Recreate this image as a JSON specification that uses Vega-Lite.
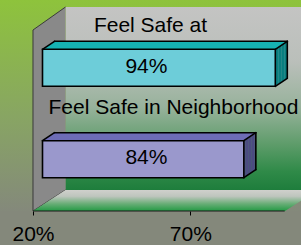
{
  "$schema": "https://vega.github.io/schema/vega-lite/v6.json",
  "width": 301,
  "height": 211,
  "autosize": {"type": "none"},
  "padding": {"left": 0, "top": 0, "right": 0, "bottom": 34},
  "background": "#84887b",
  "config": {"view": {"stroke": null}, "font": "Liberation Sans"},
  "datasets": {
    "frame": [{"part": "chart frame"}],
    "bars": [
      {"measure": "Feel Safe at", "value": 0.94},
      {"measure": "Feel Safe in Neighborhood", "value": 0.84}
    ]
  },
  "resolve": {"scale": {"y": "independent"}},
  "layer": [
    {
      "data": {"name": "frame"},
      "mark": {"type": "rect", "fill": {"gradient": "linear", "x1": 0, "y1": 0, "x2": 0, "y2": 1, "stops": [{"offset": 0, "color": "#8ec33c"}, {"offset": 0.55, "color": "#88a563"}, {"offset": 1, "color": "#84897b"}]}},
      "encoding": {
        "x": {"datum": 0.09511, "type": "quantitative", "scale": {"domain": [0.09511, 1.05188], "nice": false, "zero": false}, "axis": {"orient": "bottom", "values": [0.2, 0.7], "format": ".0%", "domain": false, "grid": false, "tickSize": 4, "tickColor": "#000", "tickWidth": 1, "labelFontSize": 21, "labelFont": "Liberation Sans", "labelColor": "#000", "labelPadding": 25.5, "labelBaseline": "alphabetic", "labelFlush": false, "labelOverlap": false, "title": null}},
        "x2": {"datum": 1.05188},
        "y": {"datum": 0, "type": "quantitative", "scale": {"domain": [0, 100], "nice": false, "zero": false}, "axis": null},
        "y2": {"datum": 100}
      }
    },
    {
      "data": {"name": "frame"},
      "mark": {"type": "rect", "fill": {"gradient": "linear", "x1": 0, "y1": 0, "x2": 0, "y2": 1, "stops": [{"offset": 0, "color": "#c4c4c3"}, {"offset": 0.3, "color": "#babfba"}, {"offset": 0.55, "color": "#97b29b"}, {"offset": 0.75, "color": "#5e9c6a"}, {"offset": 0.9, "color": "#2f8a48"}, {"offset": 1, "color": "#1e7d3c"}]}},
      "encoding": {
        "x": {"datum": 0.3033, "type": "quantitative", "scale": {"domain": [0.09511, 1.05188], "nice": false, "zero": false}, "axis": {"orient": "bottom", "values": [0.2, 0.7], "format": ".0%", "domain": false, "grid": false, "tickSize": 4, "tickColor": "#000", "tickWidth": 1, "labelFontSize": 21, "labelFont": "Liberation Sans", "labelColor": "#000", "labelPadding": 25.5, "labelBaseline": "alphabetic", "labelFlush": false, "labelOverlap": false, "title": null}},
        "x2": {"datum": 1.05188},
        "y": {"datum": 96.682, "type": "quantitative", "scale": {"domain": [0, 100], "nice": false, "zero": false}, "axis": null},
        "y2": {"datum": 9.953}
      }
    },
    {
      "data": {"name": "frame"},
      "mark": {"type": "point", "shape": "M32.5,-21L0,0L0,-181L32.5,-204", "size": 4, "filled": true, "fill": "#898989", "stroke": "#3a3a3a", "strokeWidth": 1, "opacity": 1},
      "encoding": {
        "x": {"datum": 0.2, "type": "quantitative", "scale": {"domain": [0.09511, 1.05188], "nice": false, "zero": false}, "axis": {"orient": "bottom", "values": [0.2, 0.7], "format": ".0%", "domain": false, "grid": false, "tickSize": 4, "tickColor": "#000", "tickWidth": 1, "labelFontSize": 21, "labelFont": "Liberation Sans", "labelColor": "#000", "labelPadding": 25.5, "labelBaseline": "alphabetic", "labelFlush": false, "labelOverlap": false, "title": null}},
        "y": {"datum": 0, "type": "quantitative", "scale": {"domain": [0, 100], "nice": false, "zero": false}, "axis": null}
      }
    },
    {
      "data": {"name": "frame"},
      "mark": {"type": "point", "shape": "M0,0L32.5,-21L285,-21L252,0Z", "size": 4, "filled": true, "opacity": 1, "stroke": null, "fill": {"gradient": "linear", "x1": 0, "y1": 0, "x2": 0, "y2": 1, "stops": [{"offset": 0, "color": "#cfd0cc"}, {"offset": 0.3, "color": "#bec5bd"}, {"offset": 0.65, "color": "#6aae78"}, {"offset": 1, "color": "#249a44"}]}},
      "encoding": {
        "x": {"datum": 0.2, "type": "quantitative", "scale": {"domain": [0.09511, 1.05188], "nice": false, "zero": false}, "axis": {"orient": "bottom", "values": [0.2, 0.7], "format": ".0%", "domain": false, "grid": false, "tickSize": 4, "tickColor": "#000", "tickWidth": 1, "labelFontSize": 21, "labelFont": "Liberation Sans", "labelColor": "#000", "labelPadding": 25.5, "labelBaseline": "alphabetic", "labelFlush": false, "labelOverlap": false, "title": null}},
        "y": {"datum": 0, "type": "quantitative", "scale": {"domain": [0, 100], "nice": false, "zero": false}, "axis": null}
      }
    },
    {
      "data": {"name": "frame"},
      "mark": {"type": "rule", "stroke": "#1a1a1a", "strokeWidth": 1.2},
      "encoding": {
        "x": {"datum": 0.2, "type": "quantitative", "scale": {"domain": [0.09511, 1.05188], "nice": false, "zero": false}, "axis": {"orient": "bottom", "values": [0.2, 0.7], "format": ".0%", "domain": false, "grid": false, "tickSize": 4, "tickColor": "#000", "tickWidth": 1, "labelFontSize": 21, "labelFont": "Liberation Sans", "labelColor": "#000", "labelPadding": 25.5, "labelBaseline": "alphabetic", "labelFlush": false, "labelOverlap": false, "title": null}},
        "x2": {"datum": 1.0},
        "y": {"datum": 0, "type": "quantitative", "scale": {"domain": [0, 100], "nice": false, "zero": false}, "axis": null}
      }
    },
    {
      "data": {"name": "bars"},
      "encoding": {
        "x": {"field": "value", "type": "quantitative", "scale": {"domain": [0.09511, 1.05188], "nice": false, "zero": false}, "axis": {"orient": "bottom", "values": [0.2, 0.7], "format": ".0%", "domain": false, "grid": false, "tickSize": 4, "tickColor": "#000", "tickWidth": 1, "labelFontSize": 21, "labelFont": "Liberation Sans", "labelColor": "#000", "labelPadding": 25.5, "labelBaseline": "alphabetic", "labelFlush": false, "labelOverlap": false, "title": null}},
        "y": {"field": "measure", "type": "nominal", "sort": null, "scale": {"type": "point", "domain": ["Feel Safe at", "Feel Safe in Neighborhood"], "padding": 0.6543, "align": 0.4122}, "axis": null}
      },
      "layer": [
        {"mark": {"type": "rule", "strokeWidth": 1.4, "xOffset": 10.25, "x2Offset": 10.25, "yOffset": -0.5}, "encoding": {"x2": {"datum": 0.2}, "stroke": {"condition": {"test": "datum.measure === 'Feel Safe at'", "value": "#17b2b3"}, "value": "#6d6cb6"}}},
        {"mark": {"type": "rule", "strokeWidth": 1.4, "xOffset": 11.75, "x2Offset": 11.75, "yOffset": -1.5}, "encoding": {"x2": {"datum": 0.2}, "stroke": {"condition": {"test": "datum.measure === 'Feel Safe at'", "value": "#17b2b3"}, "value": "#6d6cb6"}}},
        {"mark": {"type": "rule", "strokeWidth": 1.4, "xOffset": 13.25, "x2Offset": 13.25, "yOffset": -2.5}, "encoding": {"x2": {"datum": 0.2}, "stroke": {"condition": {"test": "datum.measure === 'Feel Safe at'", "value": "#17b2b3"}, "value": "#6d6cb6"}}},
        {"mark": {"type": "rule", "strokeWidth": 1.4, "xOffset": 14.75, "x2Offset": 14.75, "yOffset": -3.5}, "encoding": {"x2": {"datum": 0.2}, "stroke": {"condition": {"test": "datum.measure === 'Feel Safe at'", "value": "#17b2b3"}, "value": "#6d6cb6"}}},
        {"mark": {"type": "rule", "strokeWidth": 1.4, "xOffset": 16.25, "x2Offset": 16.25, "yOffset": -4.5}, "encoding": {"x2": {"datum": 0.2}, "stroke": {"condition": {"test": "datum.measure === 'Feel Safe at'", "value": "#17b2b3"}, "value": "#6d6cb6"}}},
        {"mark": {"type": "rule", "strokeWidth": 1.4, "xOffset": 17.75, "x2Offset": 17.75, "yOffset": -5.5}, "encoding": {"x2": {"datum": 0.2}, "stroke": {"condition": {"test": "datum.measure === 'Feel Safe at'", "value": "#17b2b3"}, "value": "#6d6cb6"}}},
        {"mark": {"type": "rule", "strokeWidth": 1.4, "xOffset": 19.25, "x2Offset": 19.25, "yOffset": -6.5}, "encoding": {"x2": {"datum": 0.2}, "stroke": {"condition": {"test": "datum.measure === 'Feel Safe at'", "value": "#17b2b3"}, "value": "#6d6cb6"}}},
        {"mark": {"type": "rule", "strokeWidth": 1.4, "xOffset": 20.75, "x2Offset": 20.75, "yOffset": -7.5}, "encoding": {"x2": {"datum": 0.2}, "stroke": {"condition": {"test": "datum.measure === 'Feel Safe at'", "value": "#17b2b3"}, "value": "#6d6cb6"}}},
        {"mark": {"type": "rect", "xOffset": 9.5, "x2Offset": 11.2, "yOffset": -0.5, "y2Offset": 36.5}, "encoding": {"x2": {"field": "value"}, "y2": {"field": "measure"}, "fill": {"condition": {"test": "datum.measure === 'Feel Safe at'", "value": "#0a7f80"}, "value": "#4c4b82"}}},
        {"mark": {"type": "rect", "xOffset": 11, "x2Offset": 12.7, "yOffset": -1.5, "y2Offset": 35.5}, "encoding": {"x2": {"field": "value"}, "y2": {"field": "measure"}, "fill": {"condition": {"test": "datum.measure === 'Feel Safe at'", "value": "#0a7f80"}, "value": "#4c4b82"}}},
        {"mark": {"type": "rect", "xOffset": 12.5, "x2Offset": 14.2, "yOffset": -2.5, "y2Offset": 34.5}, "encoding": {"x2": {"field": "value"}, "y2": {"field": "measure"}, "fill": {"condition": {"test": "datum.measure === 'Feel Safe at'", "value": "#0a7f80"}, "value": "#4c4b82"}}},
        {"mark": {"type": "rect", "xOffset": 14, "x2Offset": 15.7, "yOffset": -3.5, "y2Offset": 33.5}, "encoding": {"x2": {"field": "value"}, "y2": {"field": "measure"}, "fill": {"condition": {"test": "datum.measure === 'Feel Safe at'", "value": "#0a7f80"}, "value": "#4c4b82"}}},
        {"mark": {"type": "rect", "xOffset": 15.5, "x2Offset": 17.2, "yOffset": -4.5, "y2Offset": 32.5}, "encoding": {"x2": {"field": "value"}, "y2": {"field": "measure"}, "fill": {"condition": {"test": "datum.measure === 'Feel Safe at'", "value": "#0a7f80"}, "value": "#4c4b82"}}},
        {"mark": {"type": "rect", "xOffset": 17, "x2Offset": 18.7, "yOffset": -5.5, "y2Offset": 31.5}, "encoding": {"x2": {"field": "value"}, "y2": {"field": "measure"}, "fill": {"condition": {"test": "datum.measure === 'Feel Safe at'", "value": "#0a7f80"}, "value": "#4c4b82"}}},
        {"mark": {"type": "rect", "xOffset": 18.5, "x2Offset": 20.2, "yOffset": -6.5, "y2Offset": 30.5}, "encoding": {"x2": {"field": "value"}, "y2": {"field": "measure"}, "fill": {"condition": {"test": "datum.measure === 'Feel Safe at'", "value": "#0a7f80"}, "value": "#4c4b82"}}},
        {"mark": {"type": "rect", "xOffset": 20, "x2Offset": 21.7, "yOffset": -7.5, "y2Offset": 29.5}, "encoding": {"x2": {"field": "value"}, "y2": {"field": "measure"}, "fill": {"condition": {"test": "datum.measure === 'Feel Safe at'", "value": "#0a7f80"}, "value": "#4c4b82"}}},
        {"mark": {"type": "rect", "xOffset": 9.5, "x2Offset": 9.5, "y2Offset": 37, "stroke": "#000", "strokeWidth": 1.6}, "encoding": {"x2": {"datum": 0.2}, "y2": {"field": "measure"}, "fill": {"condition": {"test": "datum.measure === 'Feel Safe at'", "value": "#6dcdd9"}, "value": "#9a98cc"}}},
        {"mark": {"type": "rule", "stroke": "#000", "strokeWidth": 1.6, "strokeCap": "round", "xOffset": 21.5, "x2Offset": 21.5, "yOffset": -8}, "encoding": {"x2": {"datum": 0.2}}},
        {"mark": {"type": "rule", "stroke": "#000", "strokeWidth": 1.6, "strokeCap": "round", "xOffset": 9.5, "x2Offset": 21.5, "yOffset": 0, "y2Offset": -8}, "encoding": {"x": {"datum": 0.2, "type": "quantitative"}, "x2": {"datum": 0.2}, "y2": {"field": "measure"}}},
        {"mark": {"type": "rule", "stroke": "#000", "strokeWidth": 1.6, "strokeCap": "round", "xOffset": 9.5, "x2Offset": 21.5, "yOffset": 0, "y2Offset": -8}, "encoding": {"x2": {"field": "value"}, "y2": {"field": "measure"}}},
        {"mark": {"type": "rule", "stroke": "#000", "strokeWidth": 1.6, "strokeCap": "round", "xOffset": 9.5, "x2Offset": 21.5, "yOffset": 37, "y2Offset": 29}, "encoding": {"x2": {"field": "value"}, "y2": {"field": "measure"}}},
        {"mark": {"type": "rule", "stroke": "#000", "strokeWidth": 1.6, "strokeCap": "round", "xOffset": 21.5, "x2Offset": 21.5, "yOffset": -8, "y2Offset": 29}, "encoding": {"x2": {"field": "value"}, "y2": {"field": "measure"}}},
        {"mark": {"type": "text", "fontSize": 21, "font": "Liberation Sans", "color": "#000", "align": "center", "baseline": "alphabetic", "dy": 23.3}, "encoding": {"x": {"datum": 0.5605, "type": "quantitative"}, "text": {"field": "value", "type": "quantitative", "format": ".0%"}}},
        {"transform": [{"filter": {"field": "measure", "equal": "Feel Safe at"}}], "mark": {"type": "text", "fontSize": 21, "font": "Liberation Sans", "color": "#000", "align": "center", "baseline": "alphabetic", "dy": -17.6}, "encoding": {"x": {"datum": 0.5735, "type": "quantitative"}, "text": {"field": "measure", "type": "nominal"}}},
        {"transform": [{"filter": {"field": "measure", "equal": "Feel Safe in Neighborhood"}}], "mark": {"type": "text", "fontSize": 21, "font": "Liberation Sans", "color": "#000", "align": "left", "baseline": "alphabetic", "dy": -26.7}, "encoding": {"x": {"datum": 0.2493, "type": "quantitative"}, "text": {"field": "measure", "type": "nominal"}}}
      ]
    }
  ]
}
